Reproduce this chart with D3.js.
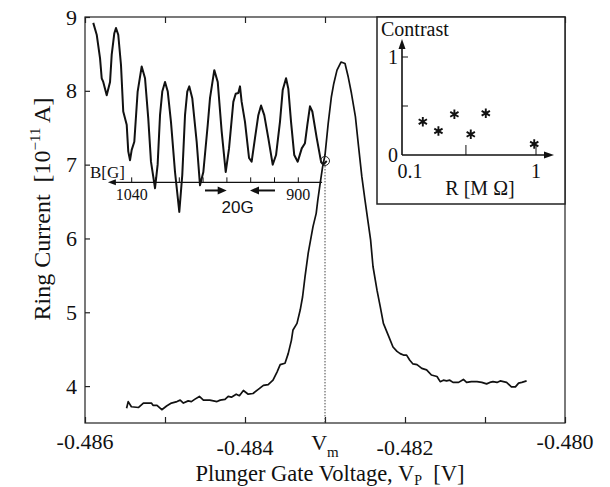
<!DOCTYPE html>
<html><head><meta charset="utf-8">
<script src="https://cdn.jsdelivr.net/npm/d3@7"></script>
<style>body{margin:0;background:#fff}svg{display:block}</style>
</head><body>
<svg id="chart" width="610" height="487"></svg>
<script>
// ---- main trace: ring current vs plunger gate voltage ----
const voltage = [
-0.48548,-0.48546,-0.48542,-0.48533,-0.48527,-0.48517,-0.48515,-0.48510,-0.48504,-0.48498,
-0.48492,-0.48485,-0.48481,-0.48477,-0.48471,-0.48467,-0.48463,-0.48457,-0.48452,-0.48444,
-0.48435,-0.48431,-0.48425,-0.48421,-0.48417,-0.48411,-0.48407,-0.48402,-0.48396,-0.48390,
-0.48383,-0.48377,-0.48371,-0.48365,-0.48360,-0.48356,-0.48350,-0.48346,-0.48342,-0.48340,
-0.48335,-0.48331,-0.48328,-0.48325,-0.48321,-0.48318,-0.48315,-0.48311,-0.48309,-0.48306,
-0.48303,-0.48300,-0.48296,-0.48292,-0.48289,-0.48285,-0.48280,-0.48275,-0.48271,-0.48267,
-0.48262,-0.48258,-0.48254,-0.48250,-0.48246,-0.48243,-0.48240,-0.48235,-0.48231,-0.48227,
-0.48221,-0.48215,-0.48210,-0.48206,-0.48202,-0.48198,-0.48194,-0.48190,-0.48185,-0.48179,
-0.48173,-0.48167,-0.48160,-0.48156,-0.48152,-0.48148,-0.48144,-0.48140,-0.48133,-0.48127,
-0.48123,-0.48117,-0.48110,-0.48104,-0.48098,-0.48094,-0.48090,-0.48085,-0.48081,-0.48077,
-0.48073,-0.48067,-0.48062,-0.48058,-0.48054,-0.48048];
const current = [
3.70,3.79,3.72,3.71,3.77,3.77,3.74,3.74,3.68,3.73,
3.77,3.79,3.81,3.77,3.80,3.79,3.82,3.86,3.81,3.81,
3.79,3.81,3.82,3.86,3.85,3.89,3.87,3.94,3.89,3.90,
3.96,4.01,4.02,4.08,4.19,4.29,4.31,4.44,4.62,4.76,
4.85,5.03,5.21,5.48,5.80,5.98,6.16,6.34,6.52,6.75,
6.97,7.13,7.56,7.92,8.10,8.28,8.39,8.37,8.19,7.97,
7.65,7.24,6.84,6.52,6.21,5.98,5.62,5.30,5.08,4.85,
4.69,4.53,4.47,4.44,4.42,4.42,4.35,4.30,4.29,4.24,
4.22,4.15,4.13,4.06,4.08,4.07,4.08,4.05,4.05,4.09,
4.05,4.06,4.06,4.05,4.03,4.05,4.06,4.05,4.07,4.06,
4.05,3.99,3.99,4.04,4.05,4.07];

// ---- Aharonov-Bohm oscillation trace: ring current vs magnetic field B [G] ----
const fieldB = [
1072.3,1069.4,1066.6,1065.2,1063.9,1061.0,1058.2,1056.8,1054.6,1053.2,
1051.3,1049.0,1047.1,1044.2,1042.9,1041.4,1040.0,1037.8,1035.0,1031.6,
1028.8,1026.1,1023.8,1020.4,1018.2,1016.2,1014.3,1012.0,1009.7,1007.0,
1003.6,1000.0,997.5,995.2,993.3,991.6,989.1,985.4,982.6,979.8,
976.1,974.2,970.6,967.7,964.4,961.0,958.2,954.6,952.6,950.4,
949.0,947.6,944.8,941.4,939.2,936.4,933.6,931.3,928.6,925.2,
921.5,918.7,915.4,913.1,910.3,908.4,906.1,903.4,900.5,897.1,
894.4,892.4,890.2,888.2,884.5,880.9,879.0,876.1];
const currentB = [
8.92,8.76,8.44,8.17,8.12,7.94,8.12,8.49,8.78,8.85,
8.76,8.35,7.72,7.54,7.18,7.06,7.20,7.31,7.99,8.33,
8.17,7.63,7.04,6.68,7.00,7.67,7.99,8.12,7.99,7.58,
6.90,6.36,6.86,7.67,7.99,8.06,7.90,7.31,6.72,6.90,
7.54,7.90,8.28,8.12,7.45,6.90,7.22,7.85,7.96,7.97,
8.06,7.85,7.58,7.09,7.04,7.36,7.67,7.80,7.67,7.36,
7.00,7.13,7.58,8.01,8.17,8.03,7.58,7.13,7.04,7.22,
7.29,7.54,7.79,7.72,7.36,7.04,7.00,7.05];

// ---- inset: contrast vs resistance ----
const resistance = [0.143, 0.187, 0.246, 0.326, 0.422, 0.97];
const contrast   = [0.34, 0.245, 0.415, 0.211, 0.426, 0.112];

// ---- ticks ----
const xTicks = [-0.486,-0.485,-0.484,-0.483,-0.482,-0.481,-0.480];
const xLabelValues = [-0.486,-0.484,-0.483,-0.482,-0.480];
const xLabelTexts  = ["-0.486","-0.484","V","-0.482","-0.480"];
const yTicks = [4,5,6,7,8,9];
const bTicks = [1040,1020,1000,980,960,940,920,900];
const bLabelValues = [1040, 900];
const rTicks = [0.3, 1];
const rLabelValues = [0.1, 1];
const cTicks = [0.5, 1];
const cLabelValues = [0, 1];
const vMatch = -0.483;
const matchCurrent = 7.05;
const bAxisExtent = [1060, 880];
const bAxisLevel = 6.76;
const arrowLevel = 6.65;
const arrowRight = [978.4, 960.2];
const arrowLeft = [919.6, 940.6];

// ---- layout ----
const serif = "'Liberation Serif','Times New Roman',serif";
const sans = "'Liberation Sans',Arial,sans-serif";
const svg = d3.select("#chart");
const L = 85, R = 565, T = 17, B = 423;
const x = d3.scaleLinear().domain([-0.486, -0.480]).range([L, R]);
const y = d3.scaleLinear().domain([3.5, 9]).range([B, T]);
const bx = d3.scaleLinear().domain([1040, 900]).range([131.7, 298.3]);

// frame
svg.append("rect").attr("x", L).attr("y", T).attr("width", R - L).attr("height", B - T)
  .attr("fill", "none").attr("stroke", "#222").attr("stroke-width", 1.2);

// bottom ticks (inside)
svg.append("g").attr("transform", `translate(0,${B})`)
  .call(d3.axisBottom(x).tickValues(xTicks).tickSizeInner(-6).tickSizeOuter(0).tickFormat(""))
  .call(g => g.select(".domain").remove())
  .call(g => g.selectAll("line").attr("stroke", "#222").attr("stroke-width", 1.2));
// top ticks (inside)
svg.append("g").attr("transform", `translate(0,${T})`)
  .call(d3.axisTop(x).tickValues(xTicks).tickSizeInner(-6).tickSizeOuter(0).tickFormat(""))
  .call(g => g.select(".domain").remove())
  .call(g => g.selectAll("line").attr("stroke", "#222").attr("stroke-width", 1.2));
// left axis
svg.append("g").attr("transform", `translate(${L},0)`)
  .call(d3.axisLeft(y).tickValues(yTicks).tickSizeInner(-5).tickSizeOuter(0).tickPadding(8).tickFormat(d3.format("d")))
  .call(g => g.select(".domain").remove())
  .call(g => g.selectAll("line").attr("stroke", "#222").attr("stroke-width", 1.2))
  .call(g => g.selectAll("text").attr("font-family", serif).attr("font-size", 22).attr("fill", "#111"));

// x tick labels
const labelBase = {"-0.486":449, "-0.484":455, "V":450, "-0.482":455, "-0.480":449};
const xl = svg.append("g").attr("font-family", serif).attr("font-size", 22).attr("fill", "#111");
xLabelValues.forEach((v, i) => {
  const t = xLabelTexts[i];
  const txt = xl.append("text").attr("x", x(v)).attr("y", labelBase[t]).attr("text-anchor", "middle");
  if (t === "V") {
    txt.append("tspan").text("V");
    txt.append("tspan").attr("font-size", 15).attr("dy", 7).text("m");
  } else txt.text(t);
});

// axis titles
const xt = svg.append("text").attr("x", 330).attr("y", 481).attr("text-anchor", "middle")
  .attr("font-family", serif).attr("font-size", 22.5).attr("fill", "#111");
xt.append("tspan").text("Plunger Gate Voltage, V");
xt.append("tspan").attr("font-size", 14).attr("dy", 4).text("P");
xt.append("tspan").attr("dy", -4).text("\u00a0\u00a0[V]");

const yt = svg.append("text").attr("transform", "translate(50,209) rotate(-90)").attr("text-anchor", "middle")
  .attr("font-family", serif).attr("font-size", 24).attr("fill", "#111");
yt.append("tspan").text("Ring Current \u00a0[10");
yt.append("tspan").attr("font-size", 15).attr("dy", -10).text("\u221211");
yt.append("tspan").attr("dy", 10).text(" A]");

// dotted line at V_m
svg.append("line").attr("x1", x(vMatch)).attr("x2", x(vMatch))
  .attr("y1", y(matchCurrent) + 5).attr("y2", B)
  .attr("stroke", "#444").attr("stroke-width", 1).attr("stroke-dasharray", "1.5,1.5");

// main curve
const mainLine = d3.line().x(d => x(d[0])).y(d => y(d[1]));
svg.append("path").datum(d3.zip(voltage, current)).attr("d", mainLine)
  .attr("fill", "none").attr("stroke", "#111").attr("stroke-width", 1.7).attr("stroke-linejoin", "round");

// oscillation curve
const oscLine = d3.line().x(d => bx(d[0])).y(d => y(d[1]));
svg.append("path").datum(d3.zip(fieldB, currentB)).attr("d", oscLine)
  .attr("fill", "none").attr("stroke", "#111").attr("stroke-width", 2).attr("stroke-linejoin", "round");

// circle at match point
svg.append("circle").attr("cx", x(vMatch)).attr("cy", y(matchCurrent)).attr("r", 4.5)
  .attr("fill", "none").attr("stroke", "#222").attr("stroke-width", 1);

// B axis
function arrowHead(g, tipX, tipY, dir, len, half) {
  g.append("path").attr("d", `M${tipX},${tipY}L${tipX - dir * len},${tipY - half}L${tipX - dir * len},${tipY + half}Z`)
    .attr("fill", "#111");
}
const by = y(bAxisLevel);
const bg = svg.append("g");
bg.append("line").attr("x1", bx(bAxisExtent[0]) + 4).attr("x2", bx(bAxisExtent[1])).attr("y1", by).attr("y2", by)
  .attr("stroke", "#111").attr("stroke-width", 1.3);
arrowHead(bg, bx(bAxisExtent[0]), by, -1, 8, 3);
bg.selectAll("line.bt").data(bTicks).join("line").attr("class", "bt")
  .attr("x1", d => bx(d)).attr("x2", d => bx(d)).attr("y1", by).attr("y2", by - 5)
  .attr("stroke", "#111").attr("stroke-width", 1);
bg.selectAll("text.bl").data(bLabelValues).join("text").attr("class", "bl")
  .attr("x", d => bx(d)).attr("y", 200).attr("text-anchor", "middle")
  .attr("font-family", serif).attr("font-size", 16).attr("fill", "#111").text(d => d);
bg.append("text").attr("x", 90).attr("y", 178).attr("font-family", serif).attr("font-size", 17)
  .attr("fill", "#111").text("B[G]");
// 20G arrows
const ay = y(arrowLevel);
bg.append("line").attr("x1", bx(arrowRight[0])).attr("x2", bx(arrowRight[1]) - 6).attr("y1", ay).attr("y2", ay)
  .attr("stroke", "#111").attr("stroke-width", 2);
arrowHead(bg, bx(arrowRight[1]), ay, 1, 9, 4);
bg.append("line").attr("x1", bx(arrowLeft[0])).attr("x2", bx(arrowLeft[1]) + 6).attr("y1", ay).attr("y2", ay)
  .attr("stroke", "#111").attr("stroke-width", 2);
arrowHead(bg, bx(arrowLeft[1]), ay, -1, 9, 4);
bg.append("text").attr("x", bx(951)).attr("y", 213).attr("text-anchor", "middle")
  .attr("font-family", sans).attr("font-size", 17).attr("fill", "#111").text("20G");

// ---- inset ----
const IL = 377, IT = 17, IR = 565, IB = 204;
svg.append("rect").attr("x", IL).attr("y", IT).attr("width", IR - IL).attr("height", IB - IT)
  .attr("fill", "#fff").attr("stroke", "#222").attr("stroke-width", 1.5);
const rx = d3.scaleLog().domain([0.1, 1]).range([402, 536]);
const cy = d3.scaleLinear().domain([0, 1]).range([155, 57]);
const ig = svg.append("g");
// axes with arrows
ig.append("line").attr("x1", rx(0.1)).attr("x2", rx(0.1)).attr("y1", cy(0)).attr("y2", 46)
  .attr("stroke", "#111").attr("stroke-width", 1.6);
ig.append("path").attr("d", `M${rx(0.1)},39L${rx(0.1) - 3.5},49L${rx(0.1) + 3.5},49Z`).attr("fill", "#111");
ig.append("line").attr("x1", rx(0.1)).attr("x2", 546).attr("y1", cy(0)).attr("y2", cy(0))
  .attr("stroke", "#111").attr("stroke-width", 1.6);
ig.append("path").attr("d", `M554,${cy(0)}L544,${cy(0) - 3.5}L544,${cy(0) + 3.5}Z`).attr("fill", "#111");
ig.selectAll("line.rt").data(rTicks).join("line").attr("class", "rt")
  .attr("x1", d => rx(d)).attr("x2", d => rx(d)).attr("y1", cy(0)).attr("y2", cy(0) - 10)
  .attr("stroke", "#111").attr("stroke-width", 1);
ig.selectAll("line.ct").data(cTicks).join("line").attr("class", "ct")
  .attr("x1", rx(0.1)).attr("x2", rx(0.1) + 6).attr("y1", d => cy(d)).attr("y2", d => cy(d))
  .attr("stroke", "#111").attr("stroke-width", 1);
ig.selectAll("text.rl").data(rLabelValues).join("text").attr("class", "rl")
  .attr("x", d => rx(d) + (d === 0.1 ? 8 : 0)).attr("y", 178).attr("text-anchor", "middle")
  .attr("font-family", serif).attr("font-size", 20).attr("fill", "#111").text(d => d);
ig.selectAll("text.cl").data(cLabelValues).join("text").attr("class", "cl")
  .attr("x", rx(0.1) - 4).attr("y", d => cy(d) + 7).attr("text-anchor", "end")
  .attr("font-family", serif).attr("font-size", 20).attr("fill", "#111").text(d => d);
ig.append("text").attr("x", 381).attr("y", 36).attr("font-family", serif).attr("font-size", 20)
  .attr("fill", "#111").text("Contrast");
ig.append("text").attr("x", 480).attr("y", 195).attr("text-anchor", "middle").attr("font-family", serif)
  .attr("font-size", 20).attr("fill", "#111").text("R [M \u03a9]");
const star = d3.symbol().type(d3.symbolAsterisk).size(64);
ig.selectAll("path.pt").data(d3.zip(resistance, contrast)).join("path").attr("class", "pt")
  .attr("transform", d => `translate(${rx(d[0])},${cy(d[1])})`).attr("d", star)
  .attr("fill", "none").attr("stroke", "#111").attr("stroke-width", 1.9);
</script>
</body></html>
